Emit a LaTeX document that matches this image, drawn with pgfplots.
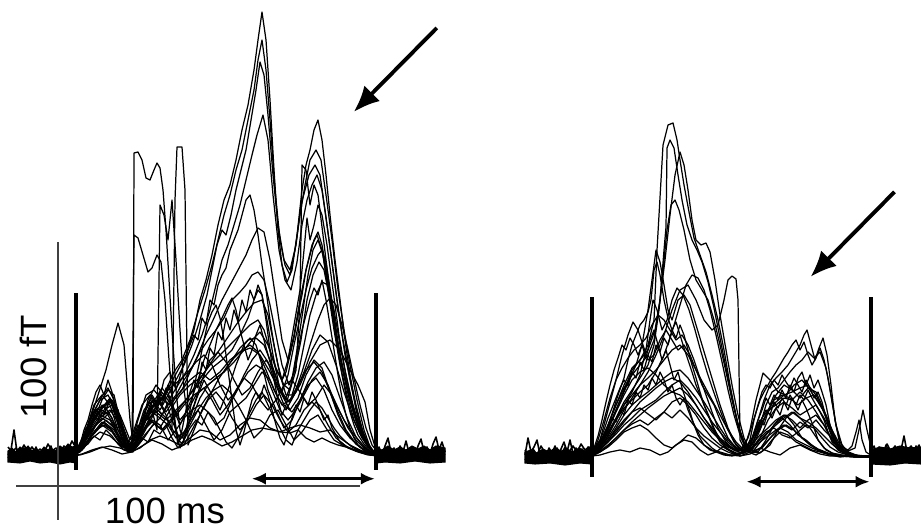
\documentclass[border=0pt]{standalone}
\usepackage{pgfplots}
\pgfplotsset{compat=1.18}
\usepackage{fontspec}
\setmainfont{Liberation Sans}
\usetikzlibrary{arrows.meta}
\pgfplotsset{tr/.style={black, line width=0.35pt, line join=round},
  nz/.style={black, line width=0.45pt, line join=round},
  band/.style={fill=black, draw=black, line width=0.3pt}}
\begin{document}
\begin{tikzpicture}
\useasboundingbox (0,0) rectangle (9.21cm,5.31cm);
\begin{axis}[at={(0,0)}, anchor=south west, scale only axis, width=9.21cm, height=5.31cm,
  xmin=0, xmax=921, ymin=0, ymax=531, y dir=reverse, hide axis, clip=false,
  every axis plot/.append style={no marks}]
% ---------- noise bands ----------
\addplot[band] coordinates {(8,451)(12,448)(16,452)(20,447)(24,450)(28,446)(32,451)(36,448)(40,452)(44,447)(48,450)(52,449)(56,451)(60,446)(64,449)(68,444)(72,447)(76,446)(76,463)(70,462)(60,464)(50,462)(40,463)(30,461)(20,463)(8,462)} -- cycle;
\addplot[band] coordinates {(376,448)(382,450)(388,446)(394,450)(400,447)(406,450)(412,446)(418,449)(424,446)(430,450)(436,446)(445,448)(445,462)(430,463)(415,461)(400,463)(385,462)(376,463)} -- cycle;
\addplot[band] coordinates {(525,452)(531,450)(537,453)(543,449)(549,452)(555,448)(561,451)(567,449)(573,452)(579,448)(585,451)(592,448)(592,464)(580,463)(565,465)(550,463)(535,464)(525,463)} -- cycle;
\addplot[band] coordinates {(871,450)(880,447)(890,449)(900,446)(910,448)(921,447)(921,464)(905,463)(890,465)(871,464)} -- cycle;
% noise lines
\addplot[nz] coordinates {(8,455)(11,450)(14,430)(17,452)(20,456)(24,448)(27,455)(30,450)(33,457)(36,447)(39,455)(42,451)(45,458)(48,452)(51,446)(54,455)(57,450)(60,456)(63,449)(66,455)(69,446)(72,452)(76,450)};
\addplot[nz] coordinates {(8,458)(11,454)(14,459)(17,452)(20,458)(23,454)(26,459)(29,452)(32,458)(35,453)(38,460)(41,455)(44,458)(47,452)(50,459)(53,454)(56,460)(59,453)(62,458)(65,452)(68,457)(71,450)(76,455)};
\addplot[nz] coordinates {(8,447)(12,452)(16,448)(20,453)(24,445)(28,452)(32,447)(36,453)(40,449)(44,453)(48,444)(52,451)(56,448)(60,453)(64,446)(68,450)(72,441)(76,448)};
\addplot[nz] coordinates {(376,452)(379,447)(382,455)(385,446)(388,438)(391,452)(394,448)(397,455)(400,446)(403,452)(406,441)(409,453)(412,448)(415,455)(418,446)(421,439)(424,452)(427,447)(430,454)(433,444)(436,437)(439,450)(442,442)(445,452)};
\addplot[nz] coordinates {(376,458)(380,453)(384,459)(388,452)(392,458)(396,451)(400,459)(404,453)(408,458)(412,450)(416,457)(420,452)(424,459)(428,451)(432,457)(436,450)(440,458)(445,454)};
\addplot[nz] coordinates {(525,455)(528,438)(531,452)(534,447)(537,440)(540,455)(543,450)(546,456)(549,448)(552,453)(555,446)(558,455)(561,449)(564,442)(567,452)(570,440)(573,454)(576,448)(579,456)(582,449)(585,455)(588,447)(592,452)};
\addplot[nz] coordinates {(525,460)(529,455)(533,461)(537,454)(541,460)(545,455)(549,462)(553,456)(557,461)(561,454)(565,460)(569,455)(573,461)(577,453)(581,460)(585,454)(589,459)(592,455)};
\addplot[nz] coordinates {(525,450)(529,456)(533,449)(537,455)(541,446)(545,453)(549,450)(553,457)(557,448)(561,455)(565,447)(569,452)(573,446)(577,452)(581,444)(585,450)(589,447)(592,450)};
\addplot[nz] coordinates {(871,452)(874,446)(877,455)(880,448)(883,454)(886,445)(889,452)(892,449)(895,456)(898,447)(901,450)(904,436)(907,452)(910,447)(913,455)(916,446)(919,452)(921,449)};
\addplot[nz] coordinates {(871,460)(875,454)(879,461)(883,455)(887,460)(891,453)(895,461)(899,455)(903,460)(907,454)(911,461)(915,455)(919,460)(921,456)};
\addplot[nz] coordinates {(871,449)(875,455)(879,447)(883,453)(887,444)(891,452)(895,446)(899,454)(903,448)(907,455)(911,446)(915,452)(919,445)(921,450)};
% ---------- left panel traces ----------
\addplot[tr] coordinates {(70,455)(76,452)(84,440)(92,415)(100,400)(108,395)(116,410)(124,440)(130,448)(138,420)(146,395)(154,390)(162,400)(170,385)(178,370)(186,355)(194,330)(200,300)(206,280)(212,255)(218,225)(224,200)(230,185)(236,160)(242,130)(248,105)(254,70)(258,40)(262,12)(266,40)(270,100)(274,170)(278,230)(282,265)(287,282)(292,270)(297,235)(302,190)(306,165)(310,150)(314,130)(318,120)(322,140)(326,175)(330,215)(335,260)(340,300)(345,340)(350,375)(356,410)(362,432)(368,447)(376,455)(385,456)};
\addplot[tr] coordinates {(70,456)(78,450)(86,430)(94,405)(102,395)(110,405)(118,430)(126,447)(134,430)(142,405)(150,395)(158,405)(166,390)(174,372)(182,360)(190,340)(198,312)(205,290)(212,265)(218,240)(224,215)(230,195)(236,170)(242,150)(248,120)(254,90)(258,60)(262,40)(266,70)(270,120)(275,190)(280,240)(285,265)(290,275)(295,250)(300,215)(305,185)(310,160)(316,150)(321,160)(326,195)(332,240)(338,290)(344,330)(350,365)(357,400)(364,430)(370,447)(378,456)(388,455)};
\addplot[tr] coordinates {(72,455)(80,447)(88,425)(96,410)(104,405)(112,418)(120,440)(128,450)(136,435)(144,410)(152,398)(160,410)(168,395)(176,380)(184,365)(192,345)(200,320)(207,295)(212,270)(217,245)(222,230)(226,235)(231,215)(236,190)(241,170)(246,150)(251,120)(256,90)(260,62)(264,75)(268,115)(273,175)(278,225)(284,260)(290,270)(296,245)(301,205)(305,190)(309,175)(315,165)(320,175)(325,210)(331,255)(337,300)(343,340)(349,372)(356,405)(363,432)(371,450)(380,455)};
\addplot[tr] coordinates {(74,456)(82,446)(90,428)(98,415)(106,412)(114,425)(122,445)(130,452)(138,440)(146,418)(154,405)(162,415)(170,398)(178,385)(186,372)(194,355)(202,335)(210,310)(216,285)(222,260)(228,245)(234,225)(240,205)(246,180)(252,155)(257,135)(263,115)(268,140)(273,195)(279,250)(285,280)(291,290)(297,262)(302,225)(307,200)(312,185)(317,175)(322,190)(327,225)(333,270)(339,315)(345,355)(352,390)(359,420)(366,440)(374,452)(382,456)};
\addplot[tr] coordinates {(70,455)(78,448)(86,435)(94,420)(102,408)(110,398)(118,410)(126,440)(134,448)(142,430)(150,410)(158,400)(166,412)(174,400)(182,390)(190,372)(198,355)(206,335)(214,318)(222,300)(230,285)(238,270)(246,255)(252,240)(258,228)(264,232)(270,260)(276,300)(282,340)(288,360)(294,335)(300,300)(306,270)(312,245)(317,235)(322,250)(328,285)(334,320)(340,355)(347,385)(354,410)(361,430)(368,445)(376,455)(386,456)};
\addplot[tr] coordinates {(72,456)(80,450)(88,440)(96,425)(104,410)(112,405)(120,420)(128,444)(136,440)(144,420)(152,412)(160,418)(168,405)(176,395)(184,380)(192,368)(200,352)(208,340)(216,330)(224,318)(232,300)(240,292)(246,285)(252,275)(258,272)(264,280)(270,305)(276,335)(282,365)(289,385)(295,370)(301,340)(307,300)(313,275)(319,262)(324,270)(330,300)(336,335)(342,365)(349,395)(356,420)(363,438)(371,450)(380,455)};
\addplot[tr] coordinates {(70,456)(80,449)(90,432)(100,418)(110,410)(120,425)(128,448)(136,442)(146,420)(156,412)(166,420)(176,410)(186,400)(196,385)(206,370)(216,355)(226,340)(236,325)(246,312)(254,303)(262,300)(268,315)(274,345)(280,375)(286,395)(292,395)(298,375)(304,345)(310,315)(316,295)(322,282)(328,285)(334,310)(340,345)(346,375)(353,405)(360,428)(368,445)(377,455)(387,456)};
\addplot[tr] coordinates {(72,455)(80,452)(88,440)(96,430)(104,425)(112,430)(120,442)(128,452)(136,445)(144,430)(152,420)(160,425)(168,440)(176,430)(184,418)(192,410)(200,405)(208,412)(216,425)(224,418)(232,400)(240,385)(248,372)(256,365)(264,370)(272,390)(280,410)(288,420)(296,410)(304,395)(312,380)(320,372)(328,385)(336,405)(344,420)(352,432)(360,442)(368,450)(378,456)};
\addplot[tr] coordinates {(70,456)(80,455)(90,452)(100,448)(110,446)(120,448)(130,452)(140,448)(150,440)(160,436)(170,440)(180,445)(190,438)(200,430)(210,432)(220,440)(230,435)(240,425)(250,418)(260,420)(270,428)(280,432)(290,428)(300,425)(310,428)(320,432)(330,430)(340,438)(350,445)(360,450)(370,454)(380,456)};
\addplot[tr] coordinates {(72,456)(82,454)(92,450)(102,447)(112,450)(122,454)(132,452)(142,446)(152,440)(162,444)(172,450)(182,446)(192,440)(202,436)(212,440)(222,446)(232,442)(242,436)(252,430)(262,428)(272,430)(282,432)(290,433)(298,430)(306,438)(314,442)(322,438)(330,442)(338,445)(346,447)(356,450)(366,453)(378,456)};
\addplot[tr] coordinates {(70,456)(78,450)(86,438)(94,420)(102,400)(108,390)(114,395)(120,420)(126,445)(132,452)(140,430)(148,400)(156,385)(164,395)(172,420)(180,440)(188,425)(196,400)(204,380)(212,395)(220,410)(228,390)(236,365)(244,345)(250,338)(256,345)(262,365)(268,390)(276,410)(284,428)(292,420)(300,400)(308,385)(316,378)(324,390)(332,410)(340,425)(350,438)(360,447)(370,453)(380,456)};
\addplot[tr] coordinates {(74,455)(82,445)(90,420)(98,395)(106,370)(112,345)(118,323)(124,345)(130,420)(134,450)(140,440)(148,425)(156,410)(164,395)(172,405)(180,420)(188,410)(196,395)(204,388)(212,400)(220,415)(228,405)(236,390)(244,378)(252,385)(260,400)(268,410)(276,400)(284,385)(292,380)(300,392)(308,405)(316,398)(324,385)(332,395)(340,412)(348,428)(356,440)(364,448)(374,455)};
\addplot[tr] coordinates {(72,456)(80,448)(88,432)(96,415)(104,405)(112,400)(118,410)(124,432)(130,448)(133,452)(134,153)(138,152)(142,160)(146,178)(150,180)(154,170)(157,163)(160,168)(163,190)(166,230)(169,280)(172,330)(176,390)(180,430)(184,440)(190,420)(198,410)(206,425)(214,440)(222,430)(230,412)(238,405)(246,420)(254,438)(262,430)(270,415)(278,410)(286,425)(294,440)(302,432)(310,420)(318,415)(326,428)(334,440)(344,446)(354,450)(364,453)(376,456)};
\addplot[tr] coordinates {(70,455)(78,447)(86,430)(94,418)(102,410)(110,415)(118,430)(126,445)(132,451)(134,235)(138,238)(143,255)(148,272)(152,268)(157,255)(161,262)(165,300)(169,360)(173,410)(178,440)(184,445)(192,430)(200,415)(208,400)(216,392)(224,402)(232,418)(240,430)(248,420)(256,405)(264,395)(272,405)(280,420)(288,432)(296,425)(304,410)(312,402)(320,410)(328,425)(336,438)(346,446)(356,451)(366,454)(378,456)};
\addplot[tr] coordinates {(72,456)(82,447)(92,430)(102,418)(112,425)(122,440)(130,447)(140,430)(150,412)(158,400)(166,415)(172,430)(175,200)(177,147)(182,147)(185,190)(188,445)(194,430)(202,410)(210,395)(218,380)(226,368)(234,358)(242,350)(250,345)(258,352)(266,370)(274,390)(282,405)(290,400)(298,385)(306,370)(314,362)(322,372)(330,392)(338,412)(346,430)(356,444)(366,452)(378,456)};
\addplot[tr] coordinates {(74,456)(82,450)(90,438)(98,428)(106,420)(114,428)(122,445)(130,450)(138,438)(146,420)(152,410)(157,430)(160,205)(164,215)(168,240)(172,200)(176,260)(180,330)(184,390)(188,420)(194,405)(202,380)(210,360)(218,352)(226,362)(234,380)(242,395)(250,388)(258,372)(266,360)(274,372)(282,395)(290,410)(298,398)(306,375)(314,360)(322,368)(330,392)(338,415)(346,432)(356,444)(366,451)(378,456)};
\addplot[tr] coordinates {(70,456)(80,448)(90,430)(100,415)(110,420)(120,438)(130,450)(140,435)(150,420)(160,428)(170,410)(180,395)(190,385)(200,378)(210,365)(220,355)(230,345)(240,335)(250,325)(258,320)(264,330)(270,350)(276,370)(282,380)(288,360)(294,325)(300,290)(304,250)(307,218)(310,240)(314,225)(318,205)(322,215)(327,245)(333,290)(339,335)(345,370)(351,400)(358,425)(366,443)(376,455)};
\addplot[tr] coordinates {(72,456)(82,450)(92,436)(102,425)(112,432)(122,447)(132,449)(142,432)(152,422)(162,430)(172,418)(182,405)(192,392)(202,380)(212,368)(222,360)(232,350)(240,335)(248,318)(254,300)(258,290)(262,295)(267,320)(273,355)(279,385)(285,400)(291,385)(297,350)(303,310)(308,275)(313,250)(318,240)(323,255)(328,290)(334,330)(340,365)(347,395)(354,420)(362,438)(370,449)(380,456)};
\addplot[tr] coordinates {(70,456)(80,451)(90,440)(100,432)(110,436)(120,445)(130,451)(140,438)(150,418)(160,400)(170,388)(180,380)(188,372)(196,362)(204,355)(212,365)(220,385)(228,400)(236,392)(244,375)(252,360)(260,350)(268,362)(276,385)(284,405)(292,412)(300,400)(308,382)(316,368)(324,362)(332,375)(340,398)(348,420)(356,437)(366,449)(378,456)};
\addplot[tr] coordinates {(72,456)(80,449)(88,437)(96,425)(104,418)(112,410)(120,418)(128,440)(136,448)(144,438)(152,426)(160,418)(168,425)(176,438)(184,432)(192,418)(200,398)(208,385)(216,378)(224,372)(232,360)(240,348)(248,340)(256,338)(264,345)(272,365)(280,388)(288,402)(296,392)(304,372)(312,350)(320,335)(328,342)(336,365)(344,392)(352,416)(360,434)(368,447)(378,456)};
\addplot[tr] coordinates {(74,456)(84,448)(94,432)(104,422)(114,430)(124,446)(134,450)(144,436)(154,424)(164,430)(174,418)(184,405)(194,395)(204,388)(214,380)(224,372)(234,362)(244,350)(252,340)(260,332)(268,345)(276,368)(284,385)(290,390)(296,370)(300,300)(302,165)(306,170)(310,205)(314,185)(318,195)(323,235)(329,285)(335,330)(342,368)(349,398)(356,420)(364,440)(372,451)(382,456)};
\addplot[tr] coordinates {(70,456)(80,446)(90,425)(100,410)(110,402)(120,415)(130,440)(140,428)(150,408)(160,398)(170,405)(180,392)(190,380)(200,372)(210,380)(220,372)(230,360)(240,352)(250,348)(260,355)(270,372)(280,392)(290,402)(300,385)(310,362)(320,345)(330,340)(340,350)(350,370)(358,385)(365,402)(370,430)(376,450)(386,456)};
\addplot[tr] coordinates {(72,456)(78,448)(82,440)(86,428)(90,432)(94,415)(98,420)(102,405)(106,410)(110,398)(114,412)(118,425)(122,438)(126,446)(130,450)(134,438)(138,425)(142,430)(146,410)(150,402)(154,412)(158,395)(162,405)(166,388)(170,398)(174,420)(178,445)(182,430)(186,410)(190,392)(194,380)(198,388)(202,362)(206,370)(210,348)(214,355)(218,332)(222,340)(226,318)(230,330)(234,310)(238,322)(242,300)(246,312)(250,290)(254,300)(258,285)(262,295)(266,320)(270,350)(274,380)(278,400)(282,415)(286,405)(290,390)(294,370)(298,350)(302,330)(306,315)(310,300)(314,288)(318,295)(322,280)(326,300)(330,325)(334,350)(338,375)(342,398)(346,415)(350,428)(354,438)(358,445)(364,450)(370,454)(378,456)};
\addplot[tr] coordinates {(70,456)(76,450)(80,445)(84,430)(88,420)(92,405)(96,392)(100,385)(104,395)(108,380)(112,392)(116,410)(120,430)(124,445)(128,452)(132,440)(136,428)(140,432)(144,415)(148,420)(152,400)(156,408)(160,392)(164,400)(168,385)(172,395)(176,430)(180,448)(184,440)(188,420)(192,400)(196,378)(200,360)(204,340)(208,322)(212,312)(216,305)(220,318)(224,340)(228,370)(232,400)(236,430)(240,445)(244,432)(248,415)(252,400)(256,392)(260,398)(264,385)(268,395)(272,410)(276,425)(280,438)(284,445)(288,432)(292,418)(296,405)(300,412)(304,398)(308,405)(312,392)(316,400)(320,410)(324,420)(328,415)(332,428)(336,435)(340,442)(348,448)(358,452)(368,455)(380,456)};
\addplot[tr] coordinates {(74,456)(80,446)(86,432)(92,420)(98,408)(104,415)(110,400)(116,415)(122,438)(128,448)(134,445)(140,425)(146,408)(152,395)(158,405)(164,380)(170,372)(176,390)(182,370)(188,350)(194,335)(198,340)(202,318)(206,325)(210,300)(214,305)(218,285)(222,275)(226,268)(230,250)(234,240)(238,230)(242,215)(246,200)(250,195)(254,210)(258,235)(262,265)(266,290)(270,320)(274,345)(278,365)(282,380)(286,372)(290,355)(294,338)(298,315)(302,295)(306,270)(310,255)(314,240)(318,232)(322,245)(326,268)(330,295)(334,322)(338,350)(342,375)(346,395)(350,412)(354,425)(358,435)(364,444)(370,451)(378,455)(386,456)};
\addplot[tr] coordinates {(70,455)(76,453)(82,448)(88,444)(94,436)(100,440)(106,430)(112,436)(118,444)(124,450)(130,452)(136,446)(142,438)(148,442)(154,430)(160,434)(166,425)(172,438)(178,448)(184,440)(190,428)(196,420)(202,425)(208,412)(214,418)(220,430)(226,442)(232,448)(238,438)(244,425)(250,412)(256,400)(262,392)(268,405)(274,418)(280,428)(286,440)(292,445)(298,430)(304,420)(310,410)(316,402)(322,408)(328,418)(334,428)(340,436)(346,442)(352,447)(360,451)(370,454)(380,456)};
\addplot[tr] coordinates {(72,456)(78,447)(84,436)(90,420)(96,408)(102,396)(108,388)(114,400)(120,422)(126,440)(132,448)(138,440)(144,420)(150,405)(156,398)(162,388)(168,396)(174,410)(180,425)(186,412)(192,398)(198,380)(204,360)(210,345)(216,330)(222,318)(228,305)(232,298)(236,310)(240,330)(244,345)(248,360)(252,350)(256,335)(260,325)(264,340)(270,362)(276,382)(282,392)(288,375)(294,345)(300,318)(306,290)(312,268)(318,255)(322,250)(326,262)(330,288)(334,315)(338,342)(342,365)(348,392)(354,415)(360,432)(366,444)(374,452)(382,456)};
\addplot[tr] coordinates {(70,456)(78,452)(86,445)(94,432)(102,422)(110,428)(118,440)(126,448)(134,444)(142,432)(150,418)(158,410)(166,418)(174,432)(182,438)(190,425)(198,410)(206,398)(214,390)(222,385)(230,392)(238,405)(246,398)(254,385)(262,372)(270,380)(278,398)(286,410)(294,395)(302,372)(310,345)(318,320)(324,305)(330,298)(336,305)(342,325)(348,350)(354,378)(360,405)(366,428)(372,445)(380,455)};
% ---------- right panel traces ----------
\addplot[tr] coordinates {(580,457)(592,455)(600,445)(608,430)(616,410)(624,390)(632,370)(640,360)(648,345)(654,320)(657,250)(663,145)(668,125)(673,123)(677,140)(680,160)(684,185)(689,212)(694,238)(700,255)(706,272)(712,295)(718,320)(724,350)(730,385)(736,415)(742,440)(748,452)(756,455)(764,450)(772,440)(780,432)(788,435)(796,442)(804,446)(812,450)(820,452)(830,455)(840,457)(850,456)(860,457)(872,457)};
\addplot[tr] coordinates {(580,456)(592,454)(600,442)(608,425)(616,405)(624,385)(632,368)(640,360)(648,350)(655,330)(660,300)(665,260)(670,215)(675,175)(680,152)(684,165)(688,190)(692,220)(696,240)(701,245)(706,243)(710,252)(715,280)(720,315)(726,350)(732,385)(738,415)(744,438)(750,450)(758,452)(766,440)(774,425)(782,418)(790,425)(798,435)(806,440)(814,447)(822,452)(832,455)(845,456)(860,457)(872,456)};
\addplot[tr] coordinates {(582,457)(592,455)(600,447)(608,432)(616,418)(624,402)(632,390)(640,378)(648,365)(654,345)(659,310)(663,270)(667,230)(671,205)(675,200)(679,210)(684,230)(690,260)(696,280)(702,290)(708,300)(714,320)(720,345)(726,372)(732,400)(738,425)(744,442)(750,452)(760,453)(770,445)(778,430)(786,418)(794,412)(802,420)(810,428)(818,440)(826,450)(836,455)(848,456)(860,457)(872,457)};
\addplot[tr] coordinates {(580,457)(592,455)(600,448)(608,438)(616,425)(624,410)(632,398)(640,385)(648,372)(656,355)(664,335)(672,310)(680,290)(688,285)(696,300)(704,320)(712,330)(718,325)(724,300)(728,280)(732,276)(736,279)(738,300)(740,440)(746,452)(754,450)(762,440)(770,430)(778,420)(786,415)(794,425)(802,438)(810,445)(818,450)(828,454)(840,456)(855,457)(872,456)};
\addplot[tr] coordinates {(580,456)(592,454)(600,440)(608,410)(616,380)(622,355)(628,335)(633,322)(638,330)(643,345)(648,360)(654,355)(660,340)(666,330)(672,340)(678,350)(684,345)(690,355)(696,370)(702,385)(708,395)(714,405)(720,420)(728,438)(736,448)(744,452)(752,448)(760,430)(768,410)(776,395)(784,385)(792,390)(800,398)(808,388)(816,392)(824,410)(832,432)(840,448)(850,455)(862,457)(872,457)};
\addplot[tr] coordinates {(580,457)(592,455)(600,448)(608,435)(616,420)(624,405)(632,395)(640,385)(648,378)(656,370)(664,360)(672,350)(680,345)(688,355)(696,370)(704,385)(712,400)(720,415)(728,430)(736,442)(744,450)(752,440)(758,420)(764,400)(770,385)(776,378)(782,372)(788,365)(794,355)(800,345)(804,335)(807,330)(811,345)(815,360)(819,348)(823,338)(827,355)(831,385)(835,420)(840,445)(846,453)(856,456)(872,457)};
\addplot[tr] coordinates {(582,457)(592,456)(600,450)(608,440)(616,428)(624,415)(632,405)(640,398)(648,392)(656,385)(664,378)(672,372)(680,370)(688,378)(696,390)(704,402)(712,415)(720,428)(728,440)(736,447)(744,452)(752,445)(760,425)(766,405)(772,392)(778,388)(784,380)(790,372)(796,365)(802,360)(808,352)(814,358)(820,352)(826,368)(831,395)(836,425)(842,445)(850,454)(860,456)(872,457)};
\addplot[tr] coordinates {(580,456)(592,455)(600,446)(608,430)(616,412)(624,395)(632,380)(640,372)(648,368)(656,375)(664,385)(672,392)(680,388)(688,395)(696,405)(704,418)(712,428)(720,438)(728,445)(736,450)(744,449)(750,430)(756,400)(763,373)(770,380)(778,392)(786,395)(794,385)(802,380)(810,390)(818,402)(826,415)(832,430)(838,445)(846,452)(856,456)(872,456)};
\addplot[tr] coordinates {(580,457)(592,456)(600,452)(608,447)(616,440)(624,432)(632,428)(640,425)(648,430)(656,438)(664,445)(672,448)(680,442)(688,435)(696,438)(704,445)(712,450)(720,452)(730,455)(740,456)(750,452)(758,440)(766,432)(774,428)(782,435)(790,438)(798,432)(806,425)(814,428)(822,438)(830,447)(838,452)(848,455)(860,456)(872,457)};
\addplot[tr] coordinates {(580,456)(592,456)(600,455)(610,452)(620,450)(630,452)(640,448)(650,450)(660,455)(668,452)(676,445)(684,440)(692,442)(700,450)(708,455)(716,452)(724,446)(732,452)(740,456)(750,454)(760,448)(770,452)(780,455)(790,448)(800,445)(810,450)(820,454)(830,456)(845,456)(860,457)(872,456)};
\addplot[tr] coordinates {(580,457)(592,455)(600,444)(608,425)(616,405)(624,388)(632,375)(640,365)(648,355)(654,340)(660,300)(664,250)(666,227)(667,148)(670,140)(674,148)(678,175)(682,200)(687,225)(692,240)(697,250)(702,262)(708,282)(714,308)(720,338)(726,368)(732,398)(738,425)(744,442)(752,451)(762,448)(772,436)(780,428)(788,432)(796,440)(804,444)(812,448)(822,452)(834,455)(848,456)(862,457)(872,457)};
\addplot[tr] coordinates {(582,457)(592,455)(600,445)(608,428)(616,410)(624,392)(630,378)(636,365)(642,345)(648,310)(652,280)(656,250)(660,262)(664,285)(668,310)(672,320)(678,300)(684,295)(690,305)(696,325)(702,345)(708,365)(714,385)(720,405)(728,428)(736,445)(744,452)(752,450)(760,438)(768,420)(776,408)(784,402)(792,408)(800,415)(808,410)(816,405)(824,418)(832,435)(840,448)(850,455)(862,456)(872,457)};
\addplot[tr] coordinates {(580,456)(592,455)(600,448)(608,436)(616,420)(624,405)(632,392)(640,375)(646,350)(650,320)(653,300)(657,310)(662,330)(667,320)(672,300)(677,288)(683,295)(689,310)(695,330)(701,352)(707,372)(713,390)(720,410)(727,428)(734,442)(742,450)(750,448)(758,432)(766,415)(774,400)(782,395)(790,398)(798,405)(806,398)(814,395)(822,408)(830,428)(838,445)(848,454)(860,456)(872,457)};
\addplot[tr] coordinates {(580,457)(592,456)(600,450)(608,440)(616,430)(624,420)(632,412)(640,408)(648,414)(656,420)(664,412)(672,402)(680,398)(688,405)(696,415)(704,428)(712,438)(720,445)(728,450)(736,454)(744,452)(752,444)(760,435)(768,428)(776,420)(784,415)(792,420)(800,428)(808,420)(816,415)(824,425)(832,440)(840,450)(850,455)(862,456)(872,456)};
\addplot[tr] coordinates {(582,457)(592,455)(600,446)(608,433)(616,420)(624,408)(632,400)(640,392)(648,385)(656,372)(664,355)(672,332)(680,305)(686,285)(692,275)(698,278)(704,290)(710,310)(716,335)(722,362)(728,390)(734,415)(740,435)(746,448)(754,452)(762,447)(770,438)(778,430)(786,425)(794,430)(802,438)(810,444)(818,449)(828,453)(840,456)(855,457)(872,457)};
\addplot[tr] coordinates {(580,456)(592,455)(600,450)(608,442)(616,432)(624,422)(632,412)(640,402)(648,395)(656,388)(664,382)(672,378)(680,382)(688,392)(696,405)(704,418)(712,430)(720,440)(728,447)(736,451)(744,450)(752,440)(760,425)(768,412)(776,402)(784,395)(792,392)(800,388)(808,385)(816,395)(824,412)(832,430)(840,445)(848,451)(855,448)(860,425)(863,410)(867,430)(872,452)(880,456)};
\addplot[tr] coordinates {(580,456)(592,455)(598,440)(604,420)(610,398)(616,380)(622,368)(628,358)(634,350)(640,345)(646,338)(652,325)(658,315)(664,320)(670,330)(676,340)(682,335)(688,345)(694,360)(700,378)(706,395)(712,412)(718,428)(726,442)(734,450)(742,453)(750,446)(756,430)(762,418)(768,410)(776,405)(784,398)(792,400)(800,392)(808,400)(816,412)(824,425)(832,440)(840,450)(850,455)(862,456)(872,457)};
\addplot[tr] coordinates {(580,456)(588,454)(592,452)(596,446)(600,440)(604,430)(608,418)(612,408)(616,398)(620,388)(624,380)(628,386)(632,372)(636,378)(640,362)(644,370)(648,355)(652,362)(656,345)(660,352)(664,338)(668,345)(672,330)(676,338)(680,325)(684,335)(688,350)(692,365)(696,378)(700,392)(704,405)(708,415)(712,425)(716,435)(720,442)(726,448)(732,452)(738,455)(744,452)(750,445)(754,432)(758,420)(762,410)(766,398)(770,405)(774,395)(778,400)(782,390)(786,398)(790,385)(794,392)(798,378)(802,372)(806,385)(810,375)(814,388)(818,380)(822,392)(826,405)(830,425)(834,440)(840,450)(848,454)(858,456)(872,456)};
\addplot[tr] coordinates {(582,457)(590,455)(596,450)(600,444)(604,435)(608,428)(612,418)(616,422)(620,410)(624,415)(628,400)(632,405)(636,392)(640,398)(644,385)(648,390)(652,378)(656,385)(660,372)(664,380)(668,392)(672,385)(676,398)(680,405)(684,398)(688,410)(692,420)(696,428)(700,436)(706,442)(712,448)(718,452)(726,455)(734,455)(742,452)(748,446)(752,438)(756,428)(760,420)(764,425)(768,412)(772,418)(776,408)(780,415)(784,402)(788,410)(792,398)(796,405)(800,395)(804,400)(808,390)(812,398)(816,405)(820,412)(824,420)(828,432)(832,442)(838,450)(846,454)(858,456)(872,457)};
\addplot[tr] coordinates {(580,456)(590,455)(594,448)(598,436)(602,420)(606,402)(610,385)(614,370)(618,358)(622,345)(626,350)(630,338)(634,345)(638,355)(642,345)(646,358)(650,340)(654,330)(658,345)(662,360)(666,350)(670,365)(674,380)(678,372)(682,388)(686,400)(690,412)(694,425)(698,435)(704,445)(710,450)(716,452)(724,455)(732,456)(740,454)(748,450)(754,440)(758,428)(762,418)(766,410)(770,415)(774,402)(778,408)(782,398)(786,405)(790,395)(794,402)(798,410)(802,400)(806,408)(810,418)(814,428)(818,440)(824,448)(832,453)(842,455)(856,456)(872,457)};
\addplot[tr] coordinates {(580,457)(592,456)(600,452)(608,446)(616,438)(624,430)(632,422)(640,415)(648,408)(656,402)(664,396)(672,392)(680,395)(688,402)(696,412)(704,422)(712,432)(720,440)(728,446)(736,450)(742,448)(748,438)(752,425)(756,412)(760,400)(764,392)(768,385)(772,378)(776,372)(780,365)(784,358)(788,352)(792,345)(796,340)(800,350)(804,342)(808,355)(812,365)(816,358)(820,348)(824,360)(828,378)(832,402)(836,425)(840,442)(846,451)(856,455)(866,456)(872,457)};
\addplot[tr] coordinates {(582,457)(592,455)(600,449)(608,442)(616,434)(624,425)(632,418)(640,410)(648,405)(656,400)(664,392)(672,385)(680,380)(688,388)(696,398)(704,410)(712,422)(720,432)(728,442)(736,449)(744,452)(750,440)(754,420)(758,405)(762,392)(766,385)(770,388)(774,380)(778,385)(782,375)(786,382)(790,388)(794,378)(798,385)(802,392)(806,380)(810,388)(814,398)(818,392)(822,402)(826,418)(830,432)(834,442)(840,450)(848,454)(860,456)(872,457)};
\addplot[tr] coordinates {(580,456)(592,455)(600,451)(608,445)(616,438)(624,430)(632,424)(640,420)(648,425)(656,418)(664,412)(672,418)(680,410)(688,418)(696,428)(704,436)(712,442)(720,448)(728,452)(736,455)(744,453)(752,448)(760,442)(768,436)(776,430)(784,425)(792,430)(800,422)(808,428)(816,420)(824,430)(832,438)(840,446)(848,450)(852,446)(856,432)(859,420)(862,440)(866,452)(872,456)};
\addplot[tr] coordinates {(580,457)(592,455)(600,447)(606,432)(612,414)(618,395)(624,378)(628,360)(632,345)(636,335)(640,325)(644,320)(648,312)(651,300)(654,270)(657,262)(660,275)(664,300)(668,318)(672,330)(676,322)(680,335)(684,348)(688,360)(692,372)(696,385)(702,400)(708,414)(714,428)(720,440)(728,449)(736,453)(744,453)(752,447)(760,440)(768,432)(776,425)(784,418)(792,412)(800,418)(808,422)(816,428)(824,436)(832,444)(840,451)(850,455)(862,456)(872,456)};
% ---------- markers of the interval ----------
\addplot[black, line width=0.95pt] coordinates {(76,293)(76,470)};
\addplot[black, line width=0.95pt] coordinates {(376,293)(376,470)};
\addplot[black, line width=0.95pt] coordinates {(592,297)(592,477)};
\addplot[black, line width=0.95pt] coordinates {(871,297)(871,477)};
% scale bars
\addplot[black!75, line width=0.45pt] coordinates {(58,242)(58,520)};
\addplot[black!75, line width=0.45pt] coordinates {(16,486)(360,486)};
\end{axis}
\begin{scope}[x=0.01cm, y=-0.01cm, shift={(0,5.31cm)}]
\draw[black, line width=0.75pt, {Latex[length=1.4mm,width=1.2mm]}-{Latex[length=1.4mm,width=1.2mm]}] (252,479) -- (375,479);
\draw[black, line width=0.75pt, {Latex[length=1.4mm,width=1.2mm]}-{Latex[length=1.4mm,width=1.2mm]}] (747,482) -- (870,482);
\draw[black, line width=1.1pt, -{Latex[length=2.6mm,width=2.2mm]}] (437,28) -- (354,112);
\draw[black, line width=1.1pt, -{Latex[length=2.6mm,width=2.2mm]}] (895,192) -- (811,277);
\node[rotate=90, font=\fontsize{10.4}{12}\selectfont] at (33,367) {100 fT};
\node[font=\fontsize{10.4}{12}\selectfont] at (165,511) {100 ms};
\end{scope}
\end{tikzpicture}
\end{document}
